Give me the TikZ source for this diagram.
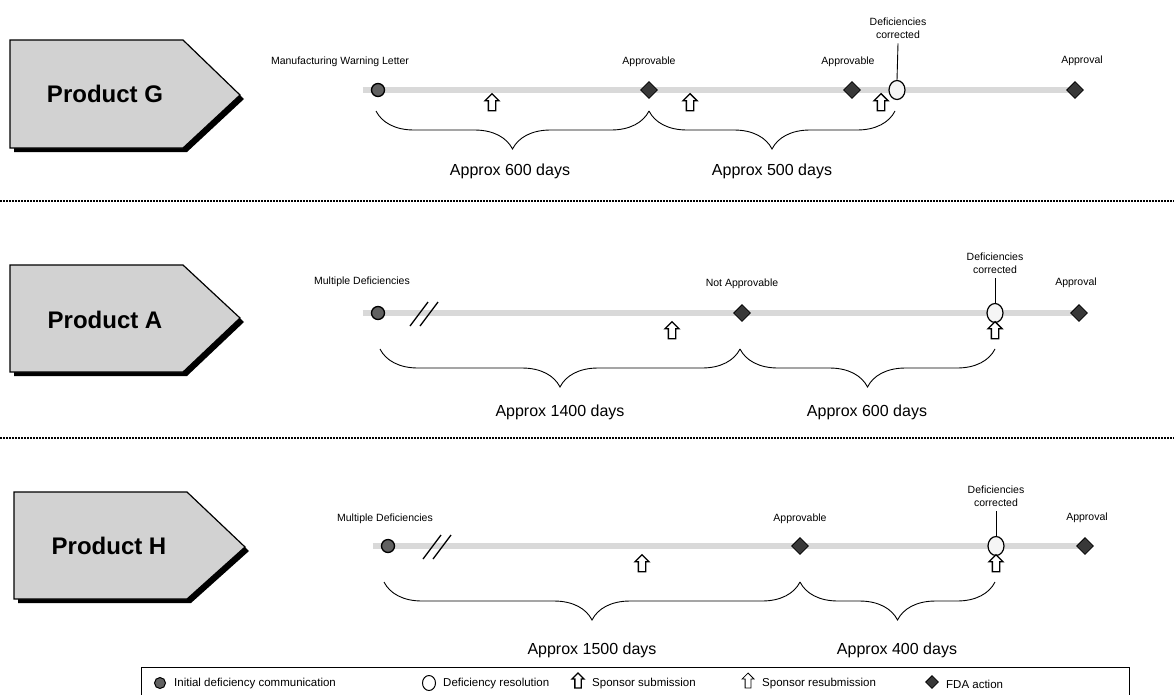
\documentclass[tikz,border=0pt]{standalone}
\usepackage{fontspec}
\setmainfont{Liberation Sans}
\usetikzlibrary{shapes.geometric,shapes.arrows,decorations.pathreplacing,backgrounds}
\begin{document}
\begin{tikzpicture}[x=1pt,y=-1pt,
  prodshadow/.style={fill=black},
  prodbox/.style={draw=black, line width=1.2pt, fill=gray!35},
  prodtext/.style={font=\bfseries\fontsize{24}{26}\selectfont},
  timeline/.style={draw=gray!30, line width=6pt},
  evlabel/.style={font=\fontsize{10.5}{12.5}\selectfont, inner sep=1pt, align=center},
  initdef/.style={circle, draw=black, line width=1.3pt, fill=black!62, minimum size=13pt, inner sep=0pt},
  resol/.style={ellipse, draw=black, line width=1.2pt, fill=gray!8, minimum width=16pt, minimum height=19pt, inner sep=0pt},
  fda/.style={diamond, draw=black, line width=0.8pt, fill=black!78, minimum size=17pt, inner sep=0pt},
  subm/.style={single arrow, draw=black, line width=1.3pt, fill=white, shape border rotate=90,
    minimum height=17pt, single arrow head extend=3.5pt, single arrow tip angle=90, inner sep=3pt},
  resubm/.style={subm, line width=0.8pt},
  tickline/.style={draw=black, line width=0.9pt},
  breakmark/.style={draw=black, line width=1.3pt},
  dur/.style={draw=black, line width=0.9pt, decorate, decoration={brace, mirror, amplitude=38pt}},
  approx/.style={font=\fontsize{16}{18}\selectfont},
  sepline/.style={draw=black, line width=1.8pt, dash pattern=on 1.6pt off 1.4pt},
  legtext/.style={font=\fontsize{11.5}{13}\selectfont, anchor=west, inner sep=0pt},
  legbox/.style={draw=black, line width=1pt}
]
\useasboundingbox (0,0) rectangle (1174,694);

% ---------------- Product boxes ----------------
\fill[prodshadow] (14,44) -- (187,44) -- (244,99) -- (187,152) -- (14,152) -- cycle;
\draw[prodbox] (10,40) -- (183,40) -- (240,95) -- (183,148) -- (10,148) -- cycle;
\node[prodtext] (pG) at (105,94) {Product G};

\fill[prodshadow] (14,269) -- (187,269) -- (244,322) -- (187,376) -- (14,376) -- cycle;
\draw[prodbox] (10,265) -- (183,265) -- (240,318) -- (183,372) -- (10,372) -- cycle;
\node[prodtext] (pA) at (105,320) {Product A};

\fill[prodshadow] (18,496) -- (191,496) -- (249,551) -- (191,603) -- (18,603) -- cycle;
\draw[prodbox] (14,492) -- (187,492) -- (245,547) -- (187,599) -- (14,599) -- cycle;
\node[prodtext] (pH) at (109,546) {Product H};

% ---------------- Row G ----------------
\node[initdef] (g0) at (378,90) {};
\node[fda] (g1) at (649,90) {};
\node[fda] (g2) at (852,90) {};
\node[resol] (g3) at (897,90) {};
\node[fda] (g4) at (1075,90) {};
\begin{scope}[on background layer]
  \draw[timeline] (g0.west) ++(-8,0) -- (g4.center);
\end{scope}
\node[subm] (ga1) at (492,104) {};
\node[subm] (ga2) at (690,104) {};
\node[subm] (ga3) at (881,104) {};
\node[evlabel] (lg0) at (340,62) {Manufacturing Warning Letter};
\node[evlabel] (lg1) at (649,62) {Approvable};
\node[evlabel] (lg2) at (848,62) {Approvable};
\node[evlabel] (lg3) at (898,28) {Deficiencies\\corrected};
\node[evlabel] (lg4) at (1082,61) {Approval};
\draw[tickline] (lg3.south) ++(0,4) -- (g3.north);
\coordinate (gb0) at (376,111);
\coordinate (gb1) at (649,111);
\coordinate (gb2) at (895,111);
\draw[dur] (gb0) -- (gb1);
\draw[dur] (gb1) -- (gb2);
\node[approx] (gd1) at (510,171) {Approx 600 days};
\node[approx] (gd2) at (772,171) {Approx 500 days};

\draw[sepline] (0,201) -- (1174,201);

% ---------------- Row A ----------------
\node[initdef] (a0) at (378,313) {};
\node[fda] (a1) at (742,313) {};
\node[resol] (a2) at (995,313) {};
\node[fda] (a3) at (1079,313) {};
\begin{scope}[on background layer]
  \draw[timeline] (a0.west) ++(-8,0) -- (a3.center);
\end{scope}
\coordinate (ab1) at (410,326);
\coordinate (ab2) at (428,302);
\coordinate (ab3) at (420,326);
\coordinate (ab4) at (438,302);
\draw[breakmark] (ab1) -- (ab2);
\draw[breakmark] (ab3) -- (ab4);
\node[subm] (aa1) at (672,332) {};
\node[subm] (aa2) at (995,332) {};
\node[evlabel] (la0) at (362,282) {Multiple Deficiencies};
\node[evlabel] (la1) at (742,284) {Not Approvable};
\node[evlabel] (la2) at (995,263) {Deficiencies\\corrected};
\node[evlabel] (la3) at (1076,283) {Approval};
\draw[tickline] (la2.south) ++(0,4) -- (a2.north);
\coordinate (abr0) at (380,349);
\coordinate (abr1) at (740,349);
\coordinate (abr2) at (995,349);
\draw[dur] (abr0) -- (abr1);
\draw[dur] (abr1) -- (abr2);
\node[approx] (ad1) at (560,412) {Approx 1400 days};
\node[approx] (ad2) at (867,412) {Approx 600 days};

\draw[sepline] (0,438) -- (1174,438);

% ---------------- Row H ----------------
\node[initdef] (h0) at (388,546) {};
\node[fda] (h1) at (800,546) {};
\node[resol] (h2) at (996,546) {};
\node[fda] (h3) at (1085,546) {};
\begin{scope}[on background layer]
  \draw[timeline] (h0.west) ++(-8,0) -- (h3.center);
\end{scope}
\coordinate (hb1) at (423,559);
\coordinate (hb2) at (441,535);
\coordinate (hb3) at (433,559);
\coordinate (hb4) at (451,535);
\draw[breakmark] (hb1) -- (hb2);
\draw[breakmark] (hb3) -- (hb4);
\node[subm] (ha1) at (642,565) {};
\node[subm] (ha2) at (996,565) {};
\node[evlabel] (lh0) at (385,519) {Multiple Deficiencies};
\node[evlabel] (lh1) at (800,519) {Approvable};
\node[evlabel] (lh2) at (996,496) {Deficiencies\\corrected};
\node[evlabel] (lh3) at (1087,518) {Approval};
\draw[tickline] (lh2.south) ++(0,4) -- (h2.north);
\coordinate (hbr0) at (384,582);
\coordinate (hbr1) at (800,582);
\coordinate (hbr2) at (995,582);
\draw[dur] (hbr0) -- (hbr1);
\draw[dur] (hbr1) -- (hbr2);
\node[approx] (hd1) at (592,650) {Approx 1500 days};
\node[approx] (hd2) at (897,650) {Approx 400 days};

% ---------------- Legend ----------------
\node[legbox, minimum width=988pt, minimum height=28pt, anchor=north west, inner sep=0pt] (leg) at (141,667) {};
\node[initdef, minimum size=11pt, line width=1pt] (li1) at (160,683) {};
\node[legtext] (lt1) at (174,684) {Initial deficiency communication};
\node[resol, minimum width=13pt, minimum height=15pt, line width=1pt, fill=white] (li2) at (429,683) {};
\node[legtext] (lt2) at (443,684) {Deficiency resolution};
\node[subm, minimum height=15pt, inner sep=2.5pt, single arrow head extend=3pt] (li3) at (578,682) {};
\node[legtext] (lt3) at (592,684) {Sponsor submission};
\node[resubm, minimum height=15pt, inner sep=2.5pt, single arrow head extend=3pt] (li4) at (748,682) {};
\node[legtext] (lt4) at (762,684) {Sponsor resubmission};
\node[fda, minimum size=13pt] (li5) at (932,682) {};
\node[legtext] (lt5) at (946,684) {FDA action};
\end{tikzpicture}
\end{document}
